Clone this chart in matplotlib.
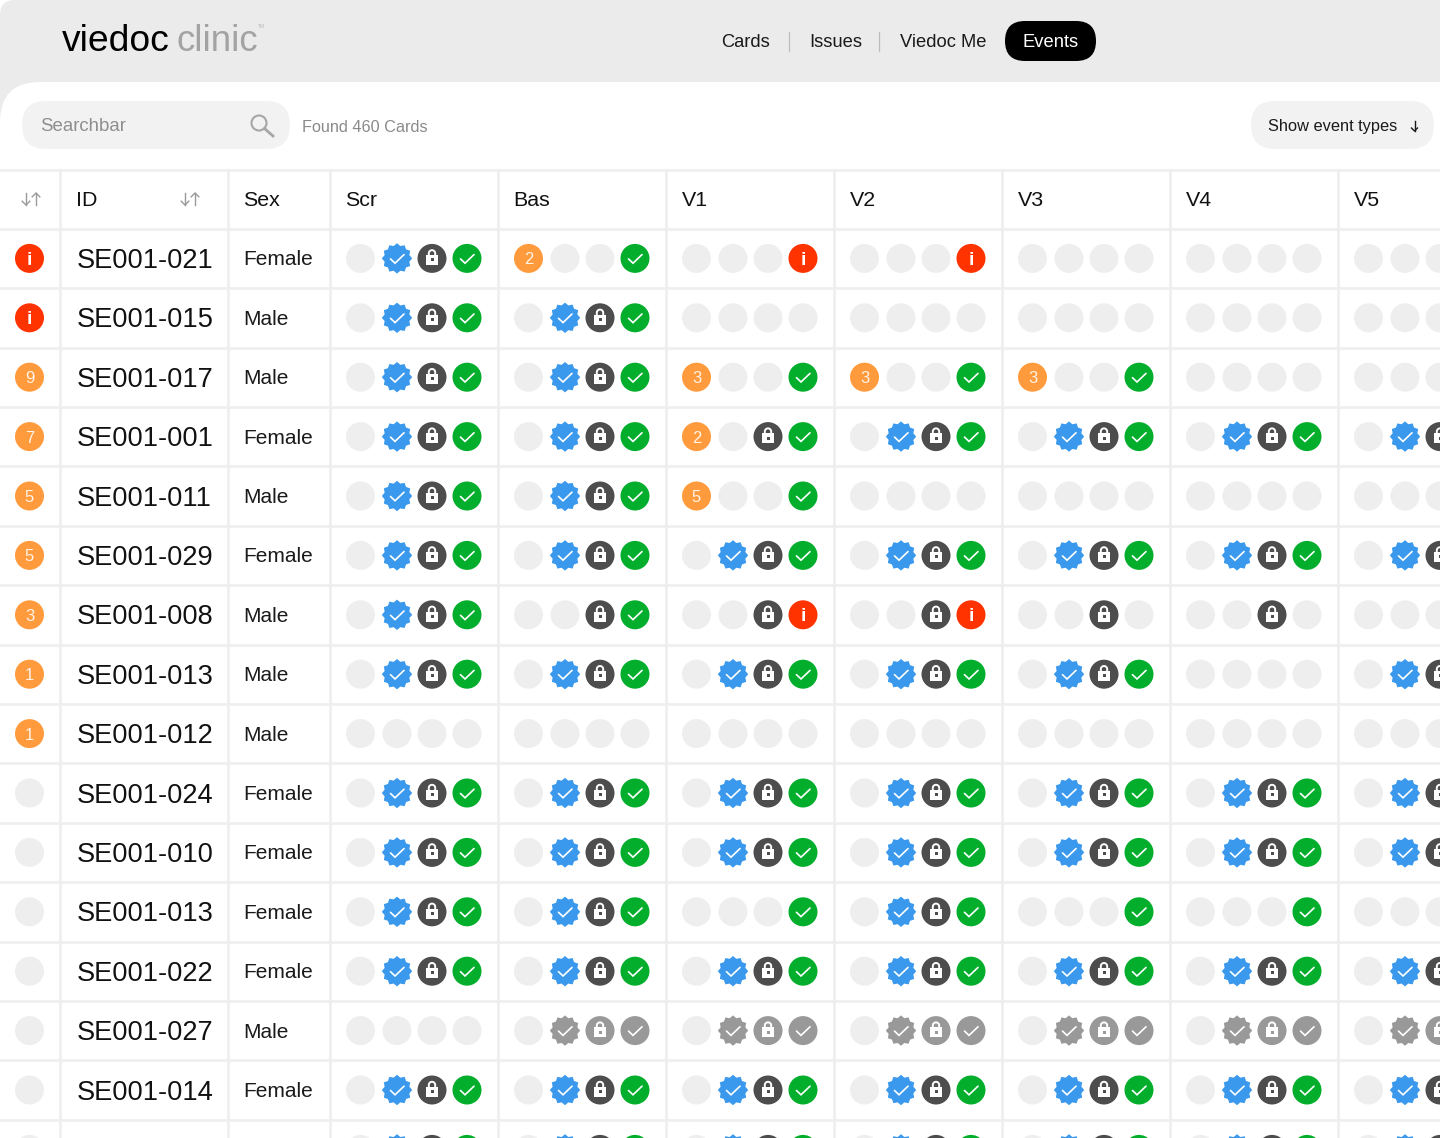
#!/usr/bin/env python3

"""
Redraw of the Viedoc clinic cards table.
"""

import matplotlib

matplotlib.use("Agg")

import matplotlib.pyplot as plt
import numpy as np
from matplotlib.patches import Circle, FancyBboxPatch, Polygon, Rectangle

plt.rcParams["font.family"] = ["Liberation Sans", "DejaVu Sans"]

WIDTH = 1440
HEIGHT = 1138

NAV_ITEMS = ["Cards", "Issues", "Viedoc Me"]
VISITS = ["Scr", "Bas", "V1", "V2", "V3", "V4", "V5"]

# Last row is cut off by the bottom edge, only the icon tops show.
IDS = [
    "SE001-021", "SE001-015", "SE001-017", "SE001-001", "SE001-011", "SE001-029",
    "SE001-008", "SE001-013", "SE001-012", "SE001-024", "SE001-010", "SE001-013",
    "SE001-022", "SE001-027", "SE001-014", "",
]
SEXES = [
    "Female", "Male", "Male", "Female", "Male", "Female", "Male", "Male",
    "Male", "Female", "Female", "Female", "Female", "Male", "Female", "",
]
# r = red info, digit = orange count, . = empty
ROW_STATUS = ["r", "r", "9", "7", "5", "5", "3", "1", "1", ".", ".", ".", ".", ".", ".", "."]

# Four slots per visit: . empty, b badge, l lock, g check, r info, digit count,
# upper case B/L/G are the greyed out versions.
FULL = ".blg"
NONE = "...."
GREY = ".BLG"
CELLS = [
    [FULL, "2..g", "...r", "...r", NONE, NONE, NONE],
    [FULL, FULL, NONE, NONE, NONE, NONE, NONE],
    [FULL, FULL, "3..g", "3..g", "3..g", NONE, NONE],
    [FULL, FULL, "2.lg", FULL, FULL, FULL, FULL],
    [FULL, FULL, "5..g", NONE, NONE, NONE, NONE],
    [FULL, FULL, FULL, FULL, FULL, FULL, FULL],
    [FULL, "..lg", "..lr", "..lr", "..l.", "..l.", NONE],
    [FULL, FULL, FULL, FULL, FULL, NONE, FULL],
    [NONE, NONE, NONE, NONE, NONE, NONE, NONE],
    [FULL, FULL, FULL, FULL, FULL, FULL, FULL],
    [FULL, FULL, FULL, FULL, FULL, FULL, FULL],
    [FULL, FULL, "...g", FULL, "...g", "...g", NONE],
    [FULL, FULL, FULL, FULL, FULL, FULL, FULL],
    [NONE, GREY, GREY, GREY, GREY, GREY, GREY],
    [FULL, FULL, FULL, FULL, FULL, FULL, FULL],
    [FULL, FULL, FULL, FULL, FULL, FULL, FULL],
]

HEADER_GREY = "#ebebeb"
PILL_GREY = "#f2f2f2"
GRID_GREY = "#eeeeee"
EMPTY_GREY = "#eeeeee"
BLUE = "#3a99ec"
DARK = "#4d4d4d"
GREEN = "#03ae2d"
RED = "#ff3300"
ORANGE = "#ff9a3d"
MUTED = "#999999"

RADIUS = 14.5
ROW_TOP = 228.7
ROW_HEIGHT = 59.4
SEPARATORS = [60, 228, 330, 498, 666, 834, 1002, 1170, 1338]
SLOT_OFFSETS = [30.5, 67, 102, 137]


def pill(ax, x0, y0, x1, y1, color, radius=None):
    radius = (y1 - y0) / 2 if radius is None else radius
    ax.add_patch(
        FancyBboxPatch(
            (x0 + radius, y0 + radius),
            x1 - x0 - 2 * radius,
            y1 - y0 - 2 * radius,
            boxstyle=f"round,pad={radius},rounding_size={radius}",
            fc=color,
            ec="none",
        )
    )


def check(ax, x, y):
    ax.plot(
        [x - 6.5, x - 2, x + 7],
        [y + 0.5, y + 4.8, y - 3.8],
        color="white",
        lw=1.2,
        solid_capstyle="round",
        solid_joinstyle="miter",
    )


def circle_icon(ax, x, y, color):
    ax.add_patch(Circle((x, y), RADIUS, fc=color, ec="none"))


def badge(ax, x, y, color):
    angles = np.linspace(0, 2 * np.pi, 24, endpoint=False) - np.pi / 2
    radii = np.where(np.arange(24) % 2 == 0, 15.2, 12.8)
    points = np.column_stack([x + radii * np.cos(angles), y + radii * np.sin(angles)])
    ax.add_patch(Polygon(points, closed=True, fc=color, ec="none"))
    check(ax, x, y)


def lock(ax, x, y, color):
    circle_icon(ax, x, y, color)
    ax.add_patch(Rectangle((x - 6, y - 3.3), 12, 10, fc="white", ec="none"))
    theta = np.linspace(np.pi, 2 * np.pi, 20)
    ax.plot(
        np.r_[x - 3.2, x + 3.2 * np.cos(theta), x + 3.2],
        np.r_[y - 3, y - 5 + 3.2 * np.sin(theta), y - 3],
        color="white",
        lw=1.4,
    )
    ax.add_patch(Rectangle((x - 1.5, y), 3, 3, fc=color, ec="none"))


def info(ax, x, y):
    circle_icon(ax, x, y, RED)
    ax.text(x, y + 6.5, "i", color="white", fontsize=14, fontweight="bold", ha="center", va="baseline")


def count(ax, x, y, value):
    circle_icon(ax, x, y, ORANGE)
    ax.text(x, y + 6, value, color="#fff3e6", fontsize=12, ha="center", va="baseline")


def draw_icon(ax, x, y, kind):
    if kind == ".":
        circle_icon(ax, x, y, EMPTY_GREY)
    elif kind == "b":
        badge(ax, x, y, BLUE)
    elif kind == "B":
        badge(ax, x, y, MUTED)
    elif kind == "l":
        lock(ax, x, y, DARK)
    elif kind == "L":
        lock(ax, x, y, MUTED)
    elif kind == "g":
        circle_icon(ax, x, y, GREEN)
        check(ax, x, y)
    elif kind == "G":
        circle_icon(ax, x, y, MUTED)
        check(ax, x, y)
    elif kind == "r":
        info(ax, x, y)
    else:
        count(ax, x, y, kind)


def arrow(ax, x, y0, y1, color="#999999", lw=1.0, size=3.8):
    # Thin arrow with an open head, pointing from y0 to y1.
    head = size if y1 < y0 else -size
    ax.plot([x, x], [y0, y1], color=color, lw=lw)
    ax.plot([x - size, x, x + size], [y1 + head, y1, y1 + head], color=color, lw=lw)


def sort_arrows(ax, x):
    arrow(ax, x - 5, 193, 205)
    arrow(ax, x + 5, 205, 193)


def draw_header(ax):
    pill(ax, 0, 0, WIDTH + 60, 140, HEADER_GREY, radius=15)
    pill(ax, 0, 82, WIDTH + 60, HEIGHT + 60, "white", radius=40)

    ax.text(61.5, 51, "viedoc", color="black", fontsize=26.8, va="baseline")
    ax.text(176, 51, "clinic", color="#a3a3a3", fontsize=26.4, va="baseline")
    ax.text(257.5, 28, "TM", color="#bbbbbb", fontsize=3.5, va="baseline")

    for x, label in zip([721, 809.5, 900], NAV_ITEMS):
        ax.text(x, 47, label, color="#1a1a1a", fontsize=13.2, va="baseline")
    for x in [789, 879]:
        ax.plot([x, x], [32, 51], color="#bdbdbd", lw=0.9)
    pill(ax, 1005, 21, 1096, 61, "black")
    ax.text(1050.5, 47, "Events", color="white", fontsize=13.2, ha="center", va="baseline")

    pill(ax, 22, 101, 290, 149, PILL_GREY)
    ax.text(40, 131, "Searchbar", color="#8e8e8e", fontsize=13.4, va="baseline")
    ax.add_patch(Circle((259, 123), 7.5, fc="none", ec="#a6a6a6", lw=1.5))
    ax.plot([264.5, 273], [128.5, 136], color="#a6a6a6", lw=2)
    ax.text(302, 131.5, "Found 460 Cards", color="#8a8a8a", fontsize=11.7, va="baseline")

    pill(ax, 1251, 101, 1434, 149, PILL_GREY)
    ax.text(1267.5, 131, "Show event types", color="#1a1a1a", fontsize=11.8, va="baseline")
    arrow(ax, 1414.5, 121, 131, color="#1a1a1a", lw=1.0, size=3)


def draw_grid(ax):
    ax.plot([0, WIDTH], [169.5, 169.5], color=GRID_GREY, lw=1.9)
    for i in range(len(IDS)):
        y = ROW_TOP + i * ROW_HEIGHT
        ax.plot([0, WIDTH], [y, y], color=GRID_GREY, lw=1.9)
    for x in SEPARATORS:
        ax.plot([x, x], [169.5, HEIGHT], color=GRID_GREY, lw=1.9)


def draw_table(ax):
    sort_arrows(ax, 31)
    sort_arrows(ax, 190)
    ax.text(76.5, 206, "ID", color="#111111", fontsize=15.4, va="baseline")
    ax.text(243.5, 206, "Sex", color="#111111", fontsize=15.4, va="baseline")
    for col, visit in enumerate(VISITS):
        x = SEPARATORS[col + 2] + 15.5
        ax.text(x, 206, visit, color="#111111", fontsize=15.4, va="baseline")

    for row, (row_id, sex, status) in enumerate(zip(IDS, SEXES, ROW_STATUS)):
        y = ROW_TOP + (row + 0.5) * ROW_HEIGHT
        draw_icon(ax, 29.5, y, status)
        ax.text(76.5, y + 9.5, row_id, color="#111111", fontsize=19.6, va="baseline")
        ax.text(243.5, y + 7, sex, color="#1a1a1a", fontsize=15, va="baseline")
        for col, cell in enumerate(CELLS[row]):
            for offset, kind in zip(SLOT_OFFSETS, cell):
                draw_icon(ax, SEPARATORS[col + 2] + offset, y, kind)


def main() -> None:
    fig = plt.figure(figsize=(WIDTH / 100, HEIGHT / 100), dpi=100)
    ax = fig.add_axes([0, 0, 1, 1])
    ax.set_xlim(0, WIDTH)
    ax.set_ylim(HEIGHT, 0)
    ax.axis("off")

    draw_header(ax)
    draw_grid(ax)
    draw_table(ax)

    fig.savefig("out.png", dpi=100, facecolor="white")
    plt.close(fig)


if __name__ == "__main__":
    main()
